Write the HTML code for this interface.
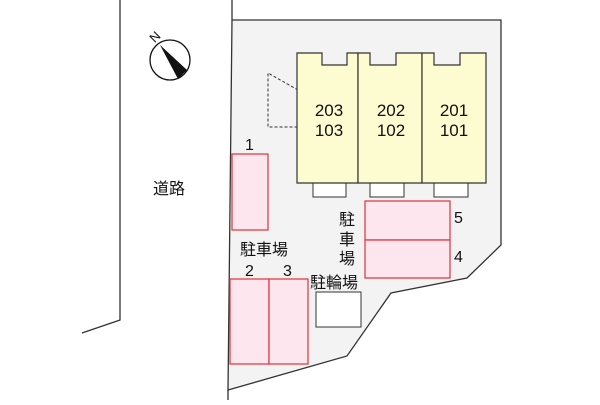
<!DOCTYPE html>
<html><head><meta charset="utf-8"><style>
body{margin:0;background:#fff}
svg text{font-family:"Liberation Sans","Noto Sans CJK JP",sans-serif;fill:#111}
</style></head><body>
<svg width="600" height="400" viewBox="0 0 600 400" xmlns="http://www.w3.org/2000/svg">
<polyline points="120,0 120,320 82,333" fill="none" stroke="#333" stroke-width="1.3"/>
<line x1="232" y1="0" x2="232" y2="20" stroke="#333" stroke-width="1.3"/>
<polygon points="232,20 501,20 501,245 467,278 391,293 347,356 228,390" fill="#f3f3f3" stroke="#333" stroke-width="1.3"/>
<line x1="228" y1="390" x2="228" y2="400" stroke="#333" stroke-width="1.3"/>
<polyline points="298,90 268,73 268,127 298,127" fill="none" stroke="#333" stroke-dasharray="3,2"/>
<g fill="#fff" stroke="#333">
<rect x="313" y="183" width="33" height="14"/><rect x="370" y="183" width="34" height="14"/><rect x="434" y="183" width="34" height="14"/>
</g>
<g fill="#fdfbd0" stroke="#333" stroke-width="1.2">
<path d="M297,53 H322 V65 H347 V53 H358 V183 H297 Z"/>
<path d="M358,53 H370 V65 H396 V53 H422 V183 H358 Z"/>
<path d="M422,53 H434 V65 H460 V53 H486 V183 H422 Z"/>
</g>
<g font-size="17" text-anchor="middle">
<text x="329" y="116">203</text><text x="329" y="136">103</text>
<text x="391" y="116">202</text><text x="391" y="136">102</text>
<text x="454" y="116">201</text><text x="454" y="136">101</text>
</g>
<g fill="#fde6ee" stroke="#e0303a" stroke-width="1.2">
<rect x="232" y="154" width="36" height="76"/>
<rect x="230" y="279" width="39" height="85"/><rect x="269" y="279" width="39" height="85"/>
<rect x="365" y="201" width="85" height="39"/><rect x="365" y="240" width="85" height="38"/>
</g>
<rect x="316" y="292" width="45" height="35" fill="#fff" stroke="#333"/>
<g font-size="16">
<text x="245" y="150">1</text>
<text x="153" y="194">道路</text>
<text x="240" y="255">駐車場</text>
<text x="245" y="276">2</text><text x="283" y="276">3</text>
<text x="339" y="225">駐</text><text x="339" y="245">車</text><text x="339" y="264">場</text>
<text x="310" y="288">駐輪場</text>
<text x="454" y="223">5</text><text x="454" y="262">4</text>
</g>
<circle cx="170" cy="60" r="20" fill="#fff" stroke="#111" stroke-width="1.3"/>
<polygon points="160,45 187,70 178,79" fill="#111"/>
<text x="150" y="42" font-size="13" transform="rotate(-45 154 37)">N</text>
</svg>
</body></html>
